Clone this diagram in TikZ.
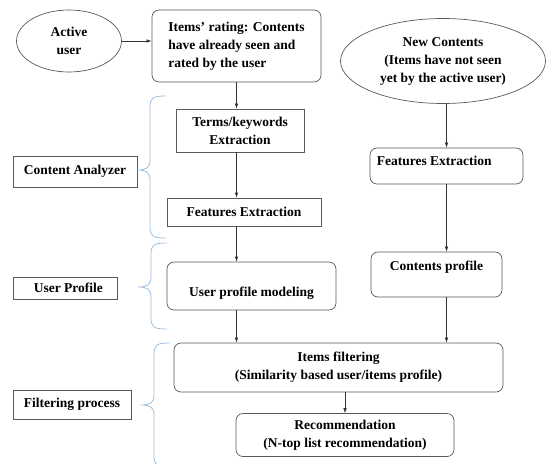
\documentclass[tikz,border=0pt]{standalone}
\usepackage{fontspec}
\setmainfont{Liberation Serif}
\usetikzlibrary{shapes.geometric,arrows.meta}

\tikzset{
    every node/.style={font=\bfseries\fontsize{13.5}{18}\selectfont, inner sep=0pt},
    sqbox/.style={draw=black!65, line width=0.7pt},
    rbox/.style={sqbox, rounded corners=7pt},
    oval/.style={draw=black!65, line width=0.7pt, ellipse},
    arr/.style={draw=black!80, line width=0.6pt, -{Latex[length=5pt,width=3.5pt]}},
    bracket/.style={draw={rgb,255:red,155;green,190;blue,222}, line width=0.8pt}
}

% curly bracket: #1 spine x, #2 top y, #3 tip y, #4 bottom y
\newcommand{\stagebrace}[4]{%
    \draw[bracket] (#1+16,#2) .. controls (#1+2,#2) and (#1,#2+2) .. (#1,#2+12)
        -- (#1,#3-10) .. controls (#1,#3-2) and (#1-4,#3) .. (#1-13,#3)
        .. controls (#1-4,#3) and (#1,#3+2) .. (#1,#3+10)
        -- (#1,#4-12) .. controls (#1,#4-2) and (#1+2,#4) .. (#1+16,#4);}

\begin{document}
\begin{tikzpicture}[x=1pt, y=-1pt]
    \useasboundingbox (0,0) rectangle (548,463);

    % top row
    \node[oval, minimum width=105, minimum height=62, align=center] (active) at (69,41) {Active\\user};
    \node[rbox, minimum width=169, minimum height=72, align=left] (rated) at (236.5,46)
        {Items' rating: Contents\\have already seen and\\rated by the user};
    \node[oval, minimum width=205, minimum height=85, align=center] (newc) at (443,61)
        {New Contents\\(Items have not seen\\yet by the active user)};

    % left column
    \node[sqbox, minimum width=128, minimum height=43, align=center] (terms) at (240,130.5)
        {Terms/keywords\\Extraction};
    \node[sqbox, minimum width=154, minimum height=28] (featl) at (244,212) {Features Extraction};
    \node[rbox, minimum width=169, minimum height=48] (upm) at (251.5,286) {};
    \node (upmtext) at ([yshift=-7]upm.center) {User profile modeling};

    % right column
    \node[rbox, minimum width=153, minimum height=36] (featr) at (446.5,166) {};
    \node[anchor=west] (featrtext) at ([xshift=7,yshift=5]featr.west) {Features Extraction};
    \node[rbox, minimum width=131, minimum height=45] (cprof) at (436.5,274.5) {};
    \node (cproftext) at ([yshift=7.5]cprof.center) {Contents profile};

    % bottom
    \node[rbox, minimum width=329, minimum height=49, align=center] (ifilt) at (338.5,367.5)
        {Items filtering\\(Similarity based user/items profile)};
    \node[rbox, minimum width=218, minimum height=43, align=center] (rec) at (345,435)
        {Recommendation\\(N-top list recommendation)};

    % stage labels
    \node[sqbox, minimum width=124, minimum height=31] (analyzer) at (75,171.5) {Content Analyzer};
    \node[sqbox, minimum width=104, minimum height=22, anchor=west] (uprof) at (13,288) {\hspace{6pt}User Profile\hfill};
    \node[sqbox, minimum width=118, minimum height=29] (filt) at (72,404.5) {Filtering process};

    \stagebrace{150}{96}{170}{238}
    \stagebrace{151}{243}{287}{329}
    \stagebrace{154}{343}{405}{467}

    % arrows
    \draw[arr] (active.east) -- (rated.west |- active.east);
    \draw[arr] (rated.south) -- (rated.south |- terms.north);
    \draw[arr] (rated.south |- terms.south) -- (rated.south |- featl.north);
    \draw[arr] (rated.south |- featl.south) -- (rated.south |- upm.north);
    \draw[arr] (rated.south |- upm.south) -- (rated.south |- ifilt.north);
    \draw[arr] (featr.north |- newc.south) -- (featr.north);
    \draw[arr] (featr.south) -- (featr.south |- cprof.north);
    \draw[arr] (featr.south |- cprof.south) -- (featr.south |- ifilt.north);
    \draw[arr] (rec.north |- ifilt.south) -- (rec.north);
\end{tikzpicture}
\end{document}
